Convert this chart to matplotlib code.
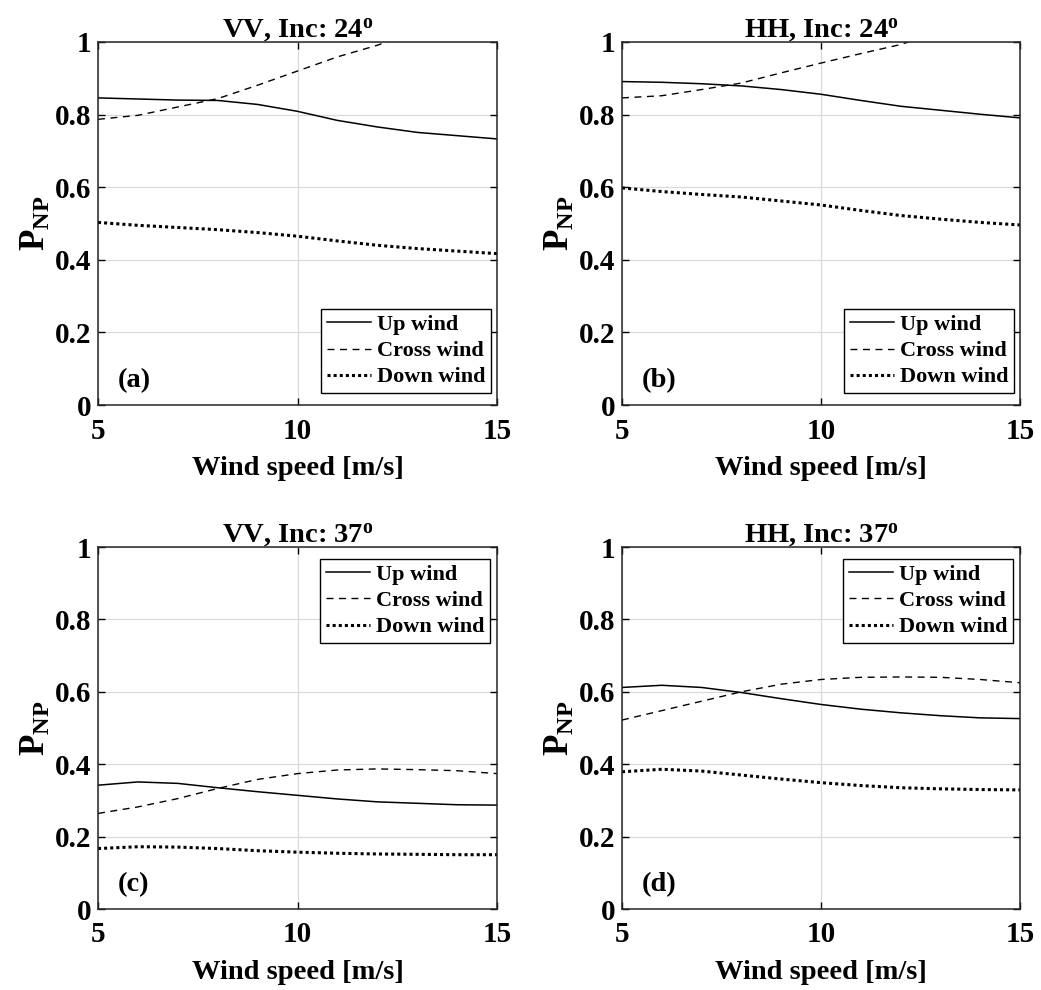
import matplotlib
matplotlib.use("Agg")
import matplotlib.pyplot as plt

plt.rcParams['font.family'] = ['Liberation Serif', 'DejaVu Serif']
plt.rcParams['font.weight'] = 'bold'
plt.rcParams['mathtext.fontset'] = 'custom'
plt.rcParams['mathtext.rm'] = 'Liberation Serif:bold'
plt.rcParams['mathtext.bf'] = 'Liberation Serif:bold'
plt.rcParams['mathtext.it'] = 'Liberation Serif:bold'

wind = [5, 6, 7, 8, 9, 10, 11, 12, 13, 14, 15]

titles = ['VV, Inc: 24$^{\\mathbf{o}}$', 'HH, Inc: 24$^{\\mathbf{o}}$',
          'VV, Inc: 37$^{\\mathbf{o}}$', 'HH, Inc: 37$^{\\mathbf{o}}$']
panel_labels = ['(a)', '(b)', '(c)', '(d)']
series_names = ['Up wind', 'Cross wind', 'Down wind']

up_a = [0.846, 0.843, 0.840, 0.839, 0.828, 0.809, 0.784, 0.766, 0.751, 0.742, 0.733]
cross_a = [0.787, 0.798, 0.821, 0.844, 0.881, 0.920, 0.959, 0.991, 1.03, 1.07, 1.10]
down_a = [0.503, 0.495, 0.489, 0.483, 0.475, 0.465, 0.452, 0.440, 0.431, 0.424, 0.417]

up_b = [0.891, 0.889, 0.885, 0.879, 0.869, 0.856, 0.839, 0.823, 0.812, 0.801, 0.791]
cross_b = [0.846, 0.852, 0.869, 0.887, 0.915, 0.942, 0.968, 0.993, 1.03, 1.07, 1.10]
down_b = [0.598, 0.588, 0.580, 0.573, 0.562, 0.551, 0.536, 0.522, 0.512, 0.503, 0.496]

up_c = [0.342, 0.351, 0.347, 0.335, 0.324, 0.314, 0.304, 0.296, 0.292, 0.288, 0.287]
cross_c = [0.264, 0.282, 0.305, 0.333, 0.358, 0.374, 0.384, 0.387, 0.385, 0.382, 0.374]
down_c = [0.167, 0.172, 0.171, 0.167, 0.161, 0.157, 0.154, 0.152, 0.151, 0.150, 0.150]

up_d = [0.612, 0.618, 0.612, 0.598, 0.581, 0.565, 0.552, 0.542, 0.534, 0.528, 0.526]
cross_d = [0.522, 0.548, 0.574, 0.600, 0.621, 0.634, 0.640, 0.641, 0.640, 0.634, 0.625]
down_d = [0.379, 0.386, 0.381, 0.370, 0.359, 0.349, 0.341, 0.335, 0.332, 0.330, 0.329]

panels = [(up_a, cross_a, down_a), (up_b, cross_b, down_b),
          (up_c, cross_c, down_c), (up_d, cross_d, down_d)]

xticks = [5, 10, 15]
yticks = [0, 0.2, 0.4, 0.6, 0.8, 1.0]
yticklabels = ['0', '0.2', '0.4', '0.6', '0.8', '1']

fig = plt.figure(figsize=(10.41, 9.9), dpi=100)
W, H = 1041, 990
rects = [(98, 42, 497, 405), (622, 42, 1020, 405),
         (98, 547, 497, 909), (622, 547, 1020, 909)]
legend_locs = ['lower right', 'lower right', 'upper right', 'upper right']

for i, (l, t, r, b) in enumerate(rects):
    ax = fig.add_axes([l / W, 1 - b / H, (r - l) / W, (b - t) / H])
    up, cross, down = panels[i]
    ax.plot(wind, up, color='black', lw=1.1, linestyle='-', label=series_names[0])
    ax.plot(wind, cross, color='black', lw=1.0, linestyle=(0, (5, 4)), label=series_names[1])
    ax.plot(wind, down, color='black', lw=2.2, linestyle=(0, (1, 1)), label=series_names[2])
    ax.set_xlim(5, 15)
    ax.set_ylim(0, 1)
    ax.set_xticks(xticks)
    ax.set_yticks(yticks)
    ax.set_yticklabels(yticklabels)
    ax.grid(True, color='#d9d9d9', lw=0.9)
    ax.set_axisbelow(True)
    ax.tick_params(direction='in', top=True, right=True, labelsize=21, length=5,
                   width=1.0)
    ax.tick_params(axis='x', pad=9)
    ax.tick_params(axis='y', pad=5)
    for lab in ax.get_xticklabels() + ax.get_yticklabels():
        lab.set_fontweight('bold')
    for s in ax.spines.values():
        s.set_linewidth(1.1)
        s.set_color('#262626')
    ax.set_title(titles[i], fontsize=20.5, fontweight='bold', pad=4)
    ax.set_xlabel('Wind speed [m/s]', fontsize=20.5, fontweight='bold', labelpad=8)
    ax.set_ylabel('$\\mathbf{P}_{\\mathbf{NP}}$', fontsize=25, labelpad=1)
    aw, ah = r - l, b - t
    if legend_locs[i] == 'lower right':
        anchor = (1 - 6 / aw, 12 / ah)
    else:
        anchor = (1 - 7 / aw, 1 - 12 / ah)
    leg = ax.legend(loc=legend_locs[i], bbox_to_anchor=anchor, frameon=True,
                    fancybox=False, edgecolor='black', handlelength=2.0,
                    handletextpad=0.25, borderpad=0.25, labelspacing=0.25,
                    borderaxespad=0.0, prop={'weight': 'bold', 'size': 16})
    leg.get_frame().set_linewidth(1.0)
    leg.get_frame().set_alpha(1.0)
    ax.text(0.05, 0.066, panel_labels[i], transform=ax.transAxes, fontsize=20.5,
            fontweight='bold', ha='left', va='center')

fig.savefig('out.png', dpi=100)
